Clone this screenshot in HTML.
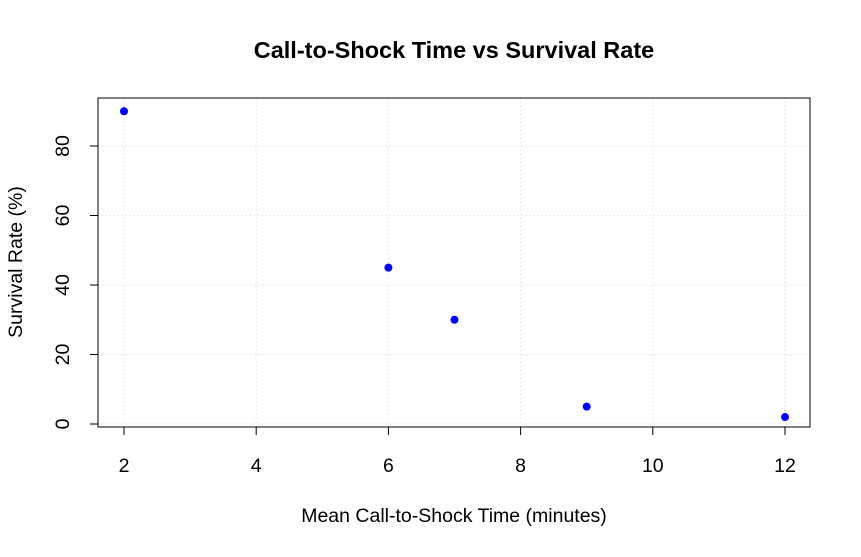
<!DOCTYPE html>
<html><head><meta charset="utf-8"><style>
body{margin:0;background:#fff;}
svg text{font-family:"Liberation Sans",Arial,sans-serif;fill:#000;}
</style></head><body>
<svg id="chart" width="861" height="552" viewBox="0 0 861 552">
<rect width="861" height="552" fill="#fff"/>
<text x="454" y="58" font-size="23.5" font-weight="bold" text-anchor="middle">Call-to-Shock Time vs Survival Rate</text>
<g id="grid"></g>
<rect x="98" y="98" width="712" height="329" fill="none" stroke="#000" stroke-width="1"/>
<g id="axes"></g>
<g id="points"></g>
<text x="454" y="522" font-size="19.5" text-anchor="middle">Mean Call-to-Shock Time (minutes)</text>
<text transform="translate(22,262) rotate(-90)" font-size="19.5" text-anchor="middle">Survival Rate (%)</text>
</svg>
<script>
const times = [2, 6, 7, 9, 12];
const survival = [90, 45, 30, 5, 2];
const xTicks = [2, 4, 6, 8, 10, 12];
const yTicks = [0, 20, 40, 60, 80];
const NS = "http://www.w3.org/2000/svg";
function xs(v){return 124 + (v-2)*(785-124)/10;}
function ys(v){return 424 - v*(424-146)/80;}
function mk(tag, attrs, parent){const e=document.createElementNS(NS,tag);for(const k in attrs)e.setAttribute(k,attrs[k]);parent.appendChild(e);return e;}
const grid=document.getElementById('grid'), axes=document.getElementById('axes'), pts=document.getElementById('points');
xTicks.forEach(t=>{
  const g=mk('line',{x1:xs(t),x2:xs(t),y1:98,y2:427,stroke:'#d3d3d3','stroke-dasharray':'1,3'},grid);
  
  
  const l=mk('line',{x1:xs(t),x2:xs(t),y1:427,y2:435,stroke:'#000'},axes);
  
  
  const tx=mk('text',{x:xs(t),y:472,'font-size':19.5,'text-anchor':'middle'},axes);
  tx.textContent=t;
  
  
});
mk('line',{x1:xs(2),x2:xs(12),y1:427,y2:427,stroke:'#000'},axes);
yTicks.forEach(t=>{
  const g=mk('line',{x1:98,x2:810,y1:ys(t),y2:ys(t),stroke:'#d3d3d3','stroke-dasharray':'1,3'},grid);
  
  
  const l=mk('line',{x1:90,x2:98,y1:ys(t),y2:ys(t),stroke:'#000'},axes);
  
  
  const tx=mk('text',{transform:`translate(69,${ys(t)}) rotate(-90)`,'font-size':19.5,'text-anchor':'middle'},axes);
  tx.textContent=t;
  
  
});
times.forEach((t,i)=>{
  const c=mk('circle',{cx:xs(t),cy:ys(survival[i]),r:4,fill:'#0000ff'},pts);
  
  
});
</script>
</body></html>
